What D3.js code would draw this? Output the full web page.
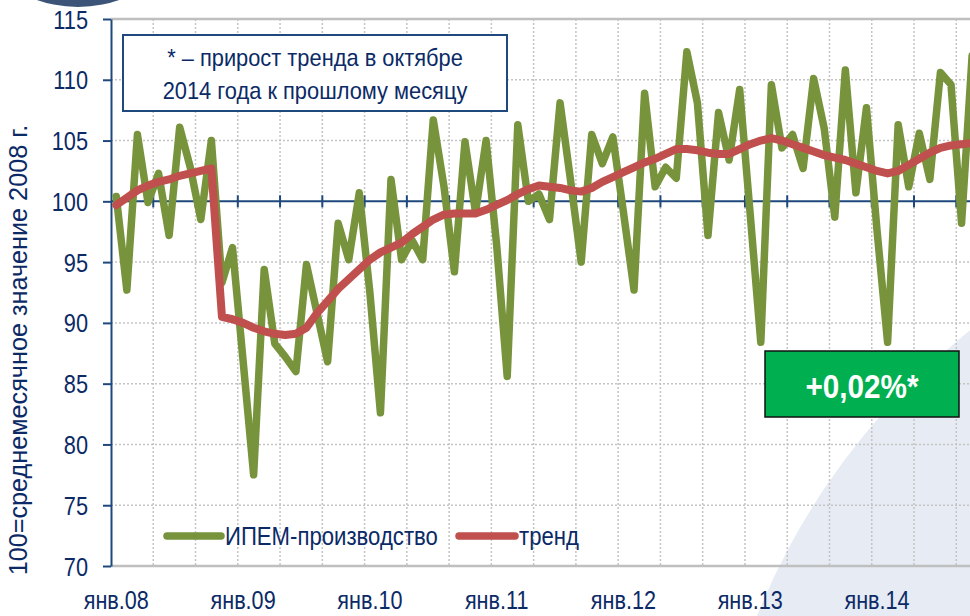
<!DOCTYPE html>
<html>
<head>
<meta charset="utf-8">
<script src="https://cdnjs.cloudflare.com/ajax/libs/d3/7.8.5/d3.min.js"></script>
<style>
  body { margin: 0; background: #fff; }
  svg { display: block; }
  text { font-family: "Liberation Sans", Arial, sans-serif; fill: #0b2a66; }
</style>
</head>
<body>
<svg width="970" height="616"></svg>
<script>
// months Jan 2008 .. Oct 2014
var months = d3.timeMonth.range(new Date(2008, 0, 1), new Date(2014, 10, 1));

var production = [
  100.4, 92.7, 105.5, 99.9, 102.3, 97.2, 106.1, 102.8, 98.5, 105.0, 93.3, 96.2,
  86.9, 77.5, 94.4, 88.3, 87.2, 86.0, 94.8, 90.8, 86.8, 98.2, 95.2, 100.7,
  92.5, 82.6, 101.8, 95.2, 96.8, 95.2, 106.7, 101.3, 94.2, 104.9, 99.1, 105.0,
  96.4, 85.6, 106.3, 100.0, 100.6, 98.5, 108.1, 101.7, 95.0, 105.5, 103.1, 105.3,
  99.1, 92.7, 108.9, 101.2, 102.8, 101.9, 112.3, 108.1, 97.2, 107.3, 103.4, 109.2,
  98.9, 88.4, 109.6, 104.4, 105.5, 102.7, 110.1, 106.0, 98.7, 110.8, 100.7, 107.7,
  97.6, 88.4, 106.3, 101.2, 105.6, 101.8, 110.6, 109.6, 98.2, 112.0
];

var trend = [
  99.7, 100.3, 100.9, 101.3, 101.6, 101.8, 102.1, 102.3, 102.5, 102.7, 90.5, 90.3,
  90.0, 89.6, 89.3, 89.1, 89.0, 89.1, 89.6, 90.8, 91.8, 92.8, 93.6, 94.4,
  95.2, 95.8, 96.2, 96.6, 97.3, 97.9, 98.5, 98.9, 99.0, 99.0, 99.0, 99.3,
  99.7, 100.1, 100.6, 101.0, 101.3, 101.2, 101.1, 100.9, 100.8, 101.1, 101.6, 102.0,
  102.4, 102.8, 103.2, 103.5, 103.9, 104.3, 104.3, 104.2, 104.0, 103.9, 103.9, 104.3,
  104.7, 105.0, 105.2, 105.0, 104.7, 104.4, 104.1, 103.8, 103.6, 103.4, 103.1, 102.8,
  102.5, 102.3, 102.5, 103.0, 103.5, 104.0, 104.4, 104.6, 104.7, 104.8
];

var yTicks = [70, 75, 80, 85, 90, 95, 100, 105, 110, 115];
var xLabels = ["янв.08", "янв.09", "янв.10", "янв.11", "янв.12", "янв.13", "янв.14"];
var seriesNames = ["ИПЕМ-производство", "тренд"];
var colors = ["#77933c", "#c0504d"];

var svg = d3.select("svg");
var step = 10.566;
var plotLeft = 111, plotTop = 19, plotBottom = 566;
var plotRight = plotLeft + months.length * step;

var x = d3.scaleBand().domain(d3.range(months.length)).range([plotLeft, plotRight]).padding(0);
var xb = d3.scaleLinear().domain([0, months.length]).range([plotLeft, plotRight]);
var y = d3.scaleLinear().domain([70, 115]).range([plotBottom, plotTop]);
var cx = function(i) { return x(i) + x.bandwidth() / 2; };

// narrow text: Arial Narrow look via horizontal squeeze
function label(px, py, txt, size, sx, anchor, rot) {
  var g = svg.append("g")
    .attr("transform", "translate(" + px + "," + py + ")" + (rot ? " rotate(" + rot + ")" : "") + " scale(" + sx + ",1)");
  return g.append("text").attr("text-anchor", anchor || "start").attr("font-size", size).text(txt);
}

// background decoration
svg.append("circle").attr("cx", 1406).attr("cy", 878).attr("r", 700).attr("fill", "#e6ebf4");
svg.append("circle").attr("cx", 78).attr("cy", -118).attr("r", 125).attr("fill", "#3b5478");

// grid
svg.append("g").selectAll("line")
  .data(d3.range(4, months.length, 4))
  .enter().append("line")
    .attr("x1", function(d) { return xb(d); }).attr("x2", function(d) { return xb(d); })
    .attr("y1", plotTop).attr("y2", plotBottom)
    .attr("stroke", "#c4c4c4").attr("stroke-width", 1.5).attr("stroke-dasharray", "2,2");

svg.append("g").selectAll("line")
  .data(yTicks.filter(function(d) { return d > 70 && d < 115 && d != 100; }))
  .enter().append("line")
    .attr("x1", plotLeft).attr("x2", plotRight)
    .attr("y1", function(d) { return y(d); }).attr("y2", function(d) { return y(d); })
    .attr("stroke", "#c4c4c4").attr("stroke-width", 1.5).attr("stroke-dasharray", "2,2");

// frame lines top / bottom
svg.append("line").attr("x1", plotLeft).attr("x2", plotRight).attr("y1", y(115)).attr("y2", y(115))
  .attr("stroke", "#bfbfbf").attr("stroke-width", 2.5);
svg.append("line").attr("x1", plotLeft).attr("x2", plotRight).attr("y1", y(70)).attr("y2", y(70))
  .attr("stroke", "#bfbfbf").attr("stroke-width", 2.5);

// category axis crossing at 100
svg.append("line").attr("x1", plotLeft).attr("x2", plotRight).attr("y1", y(100)).attr("y2", y(100))
  .attr("stroke", "#1f497d").attr("stroke-width", 2);
svg.append("g").selectAll("line")
  .data(d3.range(4, months.length, 4))
  .enter().append("line")
    .attr("x1", function(d) { return xb(d); }).attr("x2", function(d) { return xb(d); })
    .attr("y1", y(100) - 6).attr("y2", y(100) + 6)
    .attr("stroke", "#1f497d").attr("stroke-width", 2);

// value axis
var yAxis = svg.append("g")
  .attr("transform", "translate(" + plotLeft + ",0)")
  .call(d3.axisLeft(y).tickValues(yTicks).tickSizeInner(8).tickSizeOuter(0).tickPadding(15));
yAxis.attr("font-family", null).attr("font-size", null);
yAxis.select(".domain").attr("stroke", "#1f497d").attr("stroke-width", 2);
yAxis.selectAll(".tick line").attr("stroke", "#1f497d").attr("stroke-width", 2);
yAxis.selectAll(".tick text")
  .attr("font-size", 25).attr("fill", "#0b2a66")
  .attr("x", 0).attr("dy", "0.36em")
  .attr("transform", "translate(-23,0) scale(0.87,1)");

// lines
var line = d3.line().x(function(d, i) { return cx(i); }).y(function(d) { return y(d); });
svg.append("path").datum(production).attr("d", line)
  .attr("fill", "none").attr("stroke", colors[0]).attr("stroke-width", 7.5)
  .attr("stroke-linejoin", "round").attr("stroke-linecap", "round");
svg.append("path").datum(trend).attr("d", line)
  .attr("fill", "none").attr("stroke", colors[1]).attr("stroke-width", 8)
  .attr("stroke-linejoin", "round").attr("stroke-linecap", "round");

// x labels
xLabels.forEach(function(d, i) {
  label(cx(i * 12), 609, d, 25, 0.865, "middle");
});

// annotation box
svg.append("rect").attr("x", 123).attr("y", 35).attr("width", 384).attr("height", 76)
  .attr("fill", "#fff").attr("stroke", "#1f497d").attr("stroke-width", 2);
label(315, 66, "* – прирост тренда в октябре", 24, 0.91, "middle");
label(315, 99, "2014 года к прошлому месяцу", 24, 0.91, "middle");

// green label
svg.append("rect").attr("x", 765).attr("y", 351).attr("width", 194).attr("height", 66)
  .attr("fill", "#00b050").attr("stroke", "#111").attr("stroke-width", 1.5);
label(862, 398, "+0,02%*", 33, 0.9, "middle")
  .attr("font-weight", "bold").style("fill", "#fff");

// legend
var legend = [{x1: 167, x2: 221}, {x1: 459, x2: 515}];
legend.forEach(function(l, i) {
  svg.append("line").attr("x1", l.x1).attr("x2", l.x2).attr("y1", 536).attr("y2", 536)
    .attr("stroke", colors[i]).attr("stroke-width", 7.5).attr("stroke-linecap", "round");
  label(l.x2 + 4, 545, seriesNames[i], 25, 0.886, "start");
});

// y title
label(27, 350, "100=среднемесячное значение 2008 г.", 26, 0.97, "middle", -90);
</script>
</body>
</html>
